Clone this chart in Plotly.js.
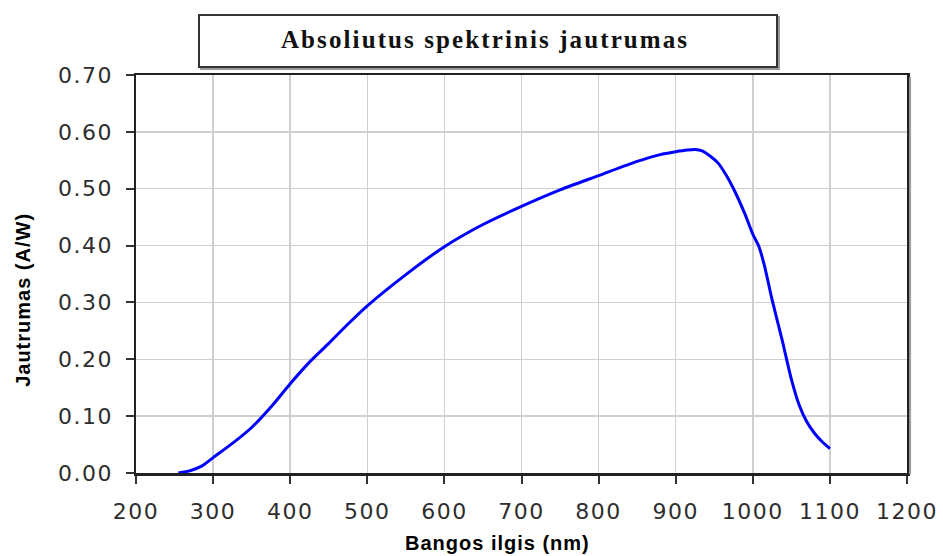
<!DOCTYPE html>
<html>
<head>
<meta charset="utf-8">
<script src="https://cdn.plot.ly/plotly-3.0.1.min.js"></script>
<style>
  html, body { margin: 0; padding: 0; background: #fff; }
  #chart { width: 943px; height: 556px; }
  .xtick text, .ytick text { letter-spacing: 1.5px; }
  .annotation-text { letter-spacing: 1px; }
  .annotation[data-index="0"] .annotation-text { letter-spacing: 2.1px; }
</style>
</head>
<body>
<div id="chart"></div>
<script>
// ---- data ----
const wavelength = [255, 270, 285, 300, 325, 350, 375, 400, 425, 450, 475, 500, 550, 600, 650, 700, 750, 800, 850, 880, 900, 915, 925, 935, 945, 955, 965, 975, 990, 1000, 1008, 1015, 1025, 1038, 1050, 1060, 1070, 1080, 1090, 1100];
const response   = [0.000, 0.004, 0.012, 0.027, 0.052, 0.080, 0.116, 0.157, 0.195, 0.228, 0.262, 0.294, 0.349, 0.398, 0.437, 0.469, 0.498, 0.523, 0.548, 0.560, 0.565, 0.568, 0.569, 0.566, 0.557, 0.545, 0.525, 0.500, 0.455, 0.420, 0.398, 0.365, 0.305, 0.234, 0.165, 0.120, 0.090, 0.070, 0.055, 0.043];

const xTickVals = [200, 300, 400, 500, 600, 700, 800, 900, 1000, 1100, 1200];
const xTickText = ["200", "300", "400", "500", "600", "700", "800", "900", "1000", "1100", "1200"];
const yTickVals = [0, 0.1, 0.2, 0.3, 0.4, 0.5, 0.6, 0.7];
const yTickText = ["0.00", "0.10", "0.20", "0.30", "0.40", "0.50", "0.60", "0.70"];

const chartTitle = "Absoliutus spektrinis jautrumas";
const xTitle = "Bangos ilgis (nm)";
const yTitle = "Jautrumas (A/W)";

const tickFont = { family: "'DejaVu Sans', Verdana, sans-serif", size: 22, color: "#2e2e2e" };
const titleFont = { family: "'Liberation Sans', Arial, sans-serif", size: 20, color: "#000000", weight: "bold" };

const trace = {
  x: wavelength,
  y: response,
  type: "scatter",
  mode: "lines",
  line: { color: "#0000ff", width: 3, shape: "spline", smoothing: 0.6 },
  hoverinfo: "x+y"
};

const layout = {
  width: 943,
  height: 556,
  margin: { l: 136, r: 36, t: 75, b: 83 },
  paper_bgcolor: "#ffffff",
  plot_bgcolor: "#ffffff",
  showlegend: false,
  xaxis: {
    range: [200, 1200],
    tickvals: xTickVals,
    ticktext: xTickText,
    ticks: "outside",
    ticklen: 8,
    tickwidth: 2,
    tickcolor: "#333333",
    ticklabelstandoff: 9,
    tickfont: tickFont,
    showgrid: true,
    gridcolor: "#cfcfcf",
    gridwidth: 1.5,
    showline: true,
    linecolor: "#222222",
    linewidth: 2.5,
    mirror: true,
    zeroline: false,
    fixedrange: true
  },
  yaxis: {
    range: [0, 0.7],
    tickvals: yTickVals,
    ticktext: yTickText,
    ticks: "outside",
    ticklen: 8,
    tickwidth: 2,
    tickcolor: "#333333",
    ticklabelstandoff: 8,
    tickfont: tickFont,
    showgrid: true,
    gridcolor: "#cfcfcf",
    gridwidth: 1.5,
    showline: true,
    linecolor: "#222222",
    linewidth: 2.5,
    mirror: true,
    zeroline: false,
    fixedrange: true
  },
  shapes: [
    // shadow of the title box
    { type: "rect", xref: "paper", yref: "paper", x0: 0.0843, x1: 0.8340, y0: 1.0151, y1: 1.1458,
      line: { color: "#9a9a9a", width: 2 }, fillcolor: "rgba(0,0,0,0)", layer: "below" },
    // title box
    { type: "rect", xref: "paper", yref: "paper", x0: 0.0817, x1: 0.8314, y0: 1.0201, y1: 1.1508,
      line: { color: "#333333", width: 2 }, fillcolor: "#ffffff" },
    // shadow of right frame
    { type: "line", xref: "paper", yref: "paper", x0: 1.004, x1: 1.004, y0: -0.003, y1: 0.995,
      line: { color: "#a0a0a0", width: 2 } }
  ],
  annotations: [
    { text: chartTitle, xref: "paper", yref: "paper", x: 0.4527, y: 1.089,
      xanchor: "center", yanchor: "middle", showarrow: false,
      font: { family: "'Liberation Serif', 'Times New Roman', serif", size: 25, color: "#111111", weight: "bold" } },
    { text: xTitle, xref: "paper", yref: "paper", x: 0.4695, y: -0.176,
      xanchor: "center", yanchor: "middle", showarrow: false, font: titleFont },
    { text: yTitle, xref: "paper", yref: "paper", x: -0.1466, y: 0.435,
      xanchor: "center", yanchor: "middle", showarrow: false, textangle: -90, font: titleFont }
  ]
};

Plotly.newPlot("chart", [trace], layout, { displayModeBar: false, staticPlot: true });
</script>
</body>
</html>
